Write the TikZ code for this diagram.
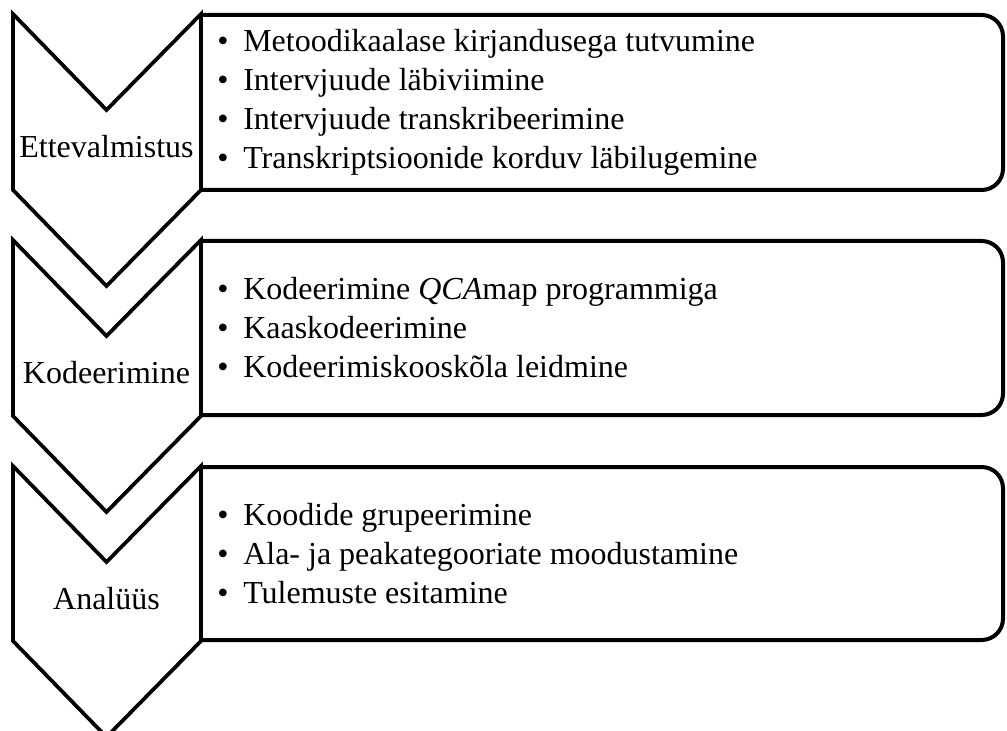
\documentclass[tikz,border=0pt]{standalone}
\usepackage{fontspec}
\setmainfont{Liberation Serif}
\usetikzlibrary{positioning}

\newcommand{\itm}[1]{\makebox[19.5pt][l]{\textbullet}#1}

\begin{document}
\begin{tikzpicture}[x=0.75pt, y=-0.75pt,
  chev/.style={line width=2.8pt, line join=miter},
  panel/.style={line width=3pt, rounded corners=16pt},
  stage/.style={font=\fontsize{24}{29}\selectfont, inner sep=0pt},
  items/.style={font=\fontsize{24}{29.25}\selectfont, align=left, anchor=west, inner sep=0pt}
]
  \useasboundingbox (0,0) rectangle (1007,731);

  % boxes on the right
  \draw[panel] (201,15) -- (1003,15) -- (1003,190) -- (201,190);
  \draw[panel] (201,241) -- (1003,241) -- (1003,415) -- (201,415);
  \draw[panel] (201,467) -- (1003,467) -- (1003,640) -- (201,640);

  % chevrons
  \draw[chev] (13,14) -- (106.5,110) -- (201,14) -- (201,190) -- (106.5,286) -- (13,190) -- cycle;
  \draw[chev] (13,240) -- (106.5,336) -- (201,240) -- (201,416) -- (106.5,512) -- (13,416) -- cycle;
  \draw[chev] (13,466) -- (106.5,562) -- (201,466) -- (201,641) -- (106.5,737) -- (13,641) -- cycle;

  \node[stage] (prep) at (106.5,147) {Ettevalmistus};
  \node[stage] (code) at (106.5,373) {Kodeerimine};
  \node[stage] (anal) at (106.5,599) {Analüüs};

  \node[items] (prepList) at (217,102) {\itm{Metoodikaalase kirjandusega tutvumine}\\
    \itm{Intervjuude läbiviimine}\\
    \itm{Intervjuude transkribeerimine}\\
    \itm{Transkriptsioonide korduv läbilugemine}};
  \node[items] (codeList) at (217,328) {\itm{Kodeerimine \textit{QCA}map programmiga}\\
    \itm{Kaaskodeerimine}\\
    \itm{Kodeerimiskooskõla leidmine}};
  \node[items] (analList) at (217,554) {\itm{Koodide grupeerimine}\\
    \itm{Ala- ja peakategooriate moodustamine}\\
    \itm{Tulemuste esitamine}};
\end{tikzpicture}
\end{document}
